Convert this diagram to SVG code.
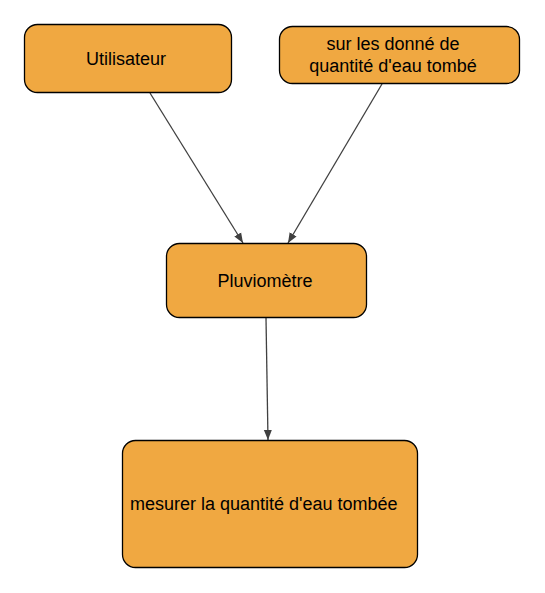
<svg xmlns="http://www.w3.org/2000/svg" width="545" height="593" viewBox="0 0 545 593">
<style>
.node{fill:#F0A841;stroke:#000;stroke-width:1.3}
.lbl{font-family:"Liberation Sans",Arial,sans-serif;font-size:18px;fill:#000}
.edge{stroke:#404040;stroke-width:1.3;fill:none}
</style>
<defs>
<marker id="arr" viewBox="0 0 10 10" refX="10" refY="5" markerWidth="10" markerHeight="10" markerUnits="userSpaceOnUse" orient="auto">
<path d="M0,1 L10,5 L0,9 Z" fill="#404040"/>
</marker>
</defs>
<rect width="545" height="593" fill="#fff"/>
<g id="connectors">
<line class="edge" x1="150" y1="93" x2="243" y2="243" marker-end="url(#arr)"/>
<line class="edge" x1="382" y1="84" x2="288" y2="243" marker-end="url(#arr)"/>
<line class="edge" x1="266" y1="318" x2="268" y2="440" marker-end="url(#arr)"/>
</g>
<g id="utilisateur">
<rect class="node" x="24.5" y="24.5" width="207" height="68" rx="13"/>
<text class="lbl" x="126" y="65" text-anchor="middle">Utilisateur</text>
</g>
<g id="donnees">
<rect class="node" x="279.5" y="26.5" width="240" height="57" rx="13"/>
<text class="lbl" x="393" y="50" text-anchor="middle">sur les donné de</text>
<text class="lbl" x="393" y="72" text-anchor="middle">quantité d'eau tombé</text>
</g>
<g id="pluviometre">
<rect class="node" x="166.5" y="243.5" width="200" height="74" rx="13"/>
<text class="lbl" x="265" y="287" text-anchor="middle">Pluviomètre</text>
</g>
<g id="mesurer">
<rect class="node" x="122.5" y="440.5" width="295" height="127" rx="13"/>
<text class="lbl" x="130" y="510">mesurer la quantité d'eau tombée</text>
</g>
</svg>
